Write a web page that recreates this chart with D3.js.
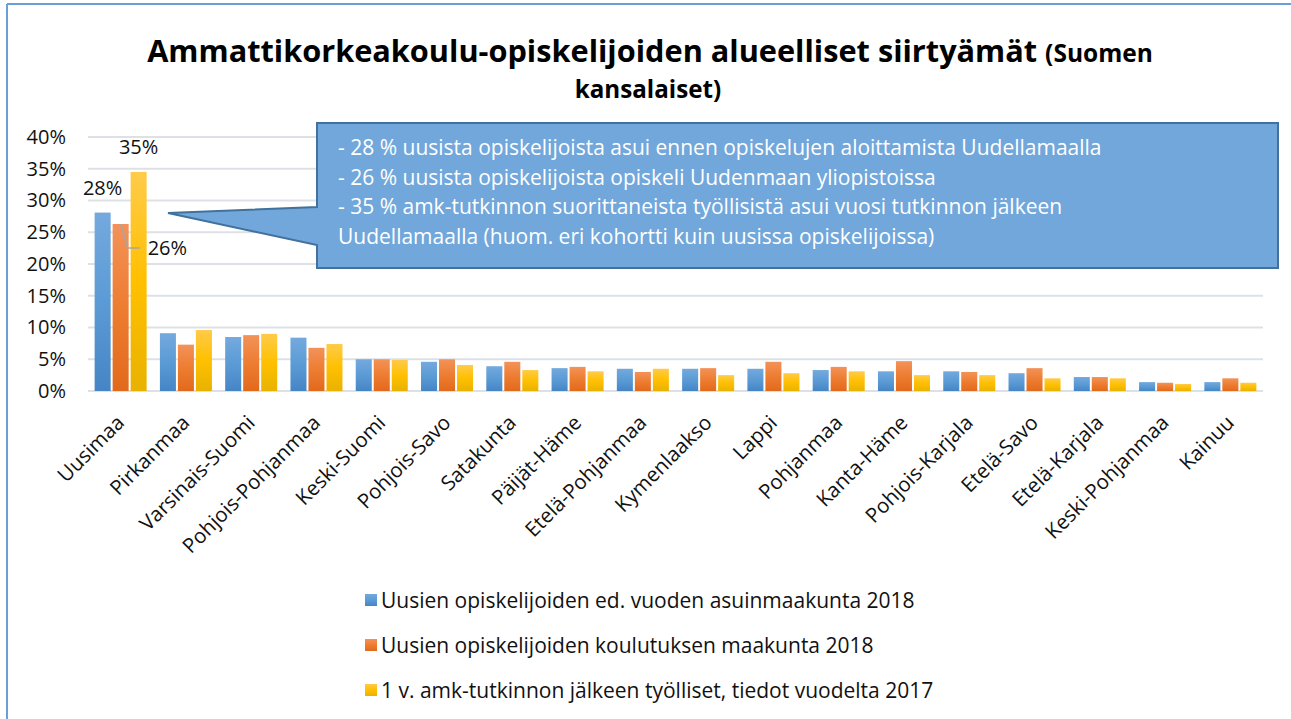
<!DOCTYPE html>
<html>
<head>
<meta charset="utf-8">
<script src="https://cdn.jsdelivr.net/npm/d3@7"></script>
<style>
  body { margin: 0; background: #fff; }
  svg { display: block; font-family: "Open Sans", sans-serif; }
</style>
</head>
<body>
<div id="chart"></div>
<script>
var categories = ["Uusimaa", "Pirkanmaa", "Varsinais-Suomi", "Pohjois-Pohjanmaa", "Keski-Suomi",
  "Pohjois-Savo", "Satakunta", "Päijät-Häme", "Etelä-Pohjanmaa", "Kymenlaakso", "Lappi",
  "Pohjanmaa", "Kanta-Häme", "Pohjois-Karjala", "Etelä-Savo", "Etelä-Karjala",
  "Keski-Pohjanmaa", "Kainuu"]

var asuinmaakunta = [28.1, 9.1, 8.5, 8.4, 5.0, 4.6, 3.9, 3.6, 3.5, 3.5, 3.5, 3.3, 3.1, 3.1, 2.8, 2.2, 1.4, 1.4]
var koulutusmaakunta = [26.3, 7.3, 8.8, 6.8, 5.0, 5.0, 4.6, 3.8, 3.0, 3.6, 4.6, 3.8, 4.7, 3.0, 3.6, 2.2, 1.3, 2.0]
var tyolliset = [34.5, 9.6, 9.0, 7.4, 4.9, 4.1, 3.3, 3.1, 3.5, 2.5, 2.8, 3.1, 2.5, 2.5, 2.0, 2.0, 1.1, 1.3]

var seriesNames = ["Uusien opiskelijoiden ed. vuoden asuinmaakunta 2018",
  "Uusien opiskelijoiden koulutuksen maakunta 2018",
  "1 v. amk-tutkinnon jälkeen työlliset, tiedot vuodelta 2017"]

var yTicks = [0, 5, 10, 15, 20, 25, 30, 35, 40]

var calloutLines = ["- 28 % uusista opiskelijoista asui ennen opiskelujen aloittamista Uudellamaalla",
  "- 26 % uusista opiskelijoista opiskeli Uudenmaan yliopistoissa",
  "- 35 % amk-tutkinnon suorittaneista työllisistä asui vuosi tutkinnon jälkeen",
  "Uudellamaalla (huom. eri kohortti kuin uusissa opiskelijoissa)"]

var w = 1291
var h = 719

var series = [asuinmaakunta, koulutusmaakunta, tyolliset]
var colors = [
  ["#74a9de", "#5b9bd5", "#4685c5"],
  ["#f39259", "#ed7d31", "#e2691c"],
  ["#ffcb4a", "#ffc000", "#e9b200"]
]

var svg = d3.select("#chart").append("svg")
  .attr("width", w)
  .attr("height", h)

var defs = svg.append("defs")
colors.forEach(function(c, i){
  var g = defs.append("linearGradient")
    .attr("id", "grad" + i)
    .attr("x1", 0).attr("y1", 0).attr("x2", 0).attr("y2", 1)
  g.append("stop").attr("offset", "0%").attr("stop-color", c[0])
  g.append("stop").attr("offset", "50%").attr("stop-color", c[1])
  g.append("stop").attr("offset", "100%").attr("stop-color", c[2])
})

// frame
svg.append("line").attr("x1", 7).attr("y1", 4).attr("x2", w).attr("y2", 4)
  .attr("stroke", "#6a9fd8").attr("stroke-width", 2)
svg.append("line").attr("x1", 7).attr("y1", 4).attr("x2", 7).attr("y2", h)
  .attr("stroke", "#6a9fd8").attr("stroke-width", 2)

// title
var title = svg.append("text")
  .attr("x", 650)
  .attr("y", 62)
  .attr("text-anchor", "middle")
  .attr("font-weight", "bold")
  .attr("fill", "#000")
title.append("tspan").attr("font-size", 30.7)
  .text("Ammattikorkeakoulu-opiskelijoiden alueelliset siirtyämät ")
title.append("tspan").attr("font-size", 24.5).text("(Suomen")
svg.append("text")
  .attr("x", 648)
  .attr("y", 98)
  .attr("text-anchor", "middle")
  .attr("font-weight", "bold")
  .attr("font-size", 24.2)
  .text("kansalaiset)")

var x0 = d3.scaleBand()
  .domain(categories)
  .range([88, 1263])
  .paddingInner(0.203)
  .paddingOuter(0.1015)

var x1 = d3.scaleBand()
  .domain([0, 1, 2])
  .range([0, x0.bandwidth()])
  .paddingInner(0.11)

var y = d3.scaleLinear()
  .domain([0, 40])
  .range([391, 137])

// gridlines
svg.append("g").selectAll("line")
  .data(yTicks)
  .enter()
  .append("line")
  .attr("x1", 88)
  .attr("x2", 1263)
  .attr("y1", function(d){ return y(d) })
  .attr("y2", function(d){ return y(d) })
  .attr("stroke", "#dde1e6")
  .attr("stroke-width", 2)

// y axis
var yAxis = svg.append("g")
  .attr("transform", "translate(66,0)")
  .call(d3.axisLeft(y).tickValues(yTicks).tickSize(0).tickPadding(0)
    .tickFormat(function(d){ return d + "%" }))
yAxis.select(".domain").remove()
yAxis.selectAll("text")
  .attr("font-family", "Open Sans")
  .attr("font-size", 20)
  .attr("fill", "#111")

// bars
var groups = svg.append("g").selectAll("g")
  .data(categories)
  .enter()
  .append("g")
  .attr("transform", function(d){ return "translate(" + x0(d) + ",0)" })

groups.selectAll("rect")
  .data(function(d, i){ return series.map(function(s, k){ return { k: k, v: s[i] } }) })
  .enter()
  .append("rect")
  .attr("x", function(d){ return x1(d.k) })
  .attr("y", function(d){ return y(d.v) })
  .attr("width", x1.bandwidth())
  .attr("height", function(d){ return y(0) - y(d.v) })
  .attr("fill", function(d){ return "url(#grad" + d.k + ")" })

// category labels
svg.append("g")
  .selectAll("text")
  .data(categories)
  .enter()
  .append("text")
  .attr("transform", function(d){
    return "translate(" + (x0(d) + x0.bandwidth() / 2 + 5) + ",424) rotate(-45)"
  })
  .attr("text-anchor", "end")
  .attr("font-size", 20.5)
  .attr("fill", "#111")
  .text(function(d){ return d })

// data labels for Uusimaa
var u = categories[0]
var ux = function(k){ return x0(u) + x1(k) + x1.bandwidth() / 2 }
svg.append("text").attr("x", ux(0)).attr("y", y(asuinmaakunta[0]) - 18)
  .attr("text-anchor", "middle").attr("font-size", 20).attr("fill", "#111")
  .text(Math.round(asuinmaakunta[0]) + "%")
svg.append("text").attr("x", ux(2)).attr("y", y(tyolliset[0]) - 18)
  .attr("text-anchor", "middle").attr("font-size", 20).attr("fill", "#111")
  .text(Math.round(tyolliset[0]) + "%")
var ly = y(koulutusmaakunta[0]) + 24
svg.append("path")
  .attr("d", "M" + ux(1) + "," + y(koulutusmaakunta[0]) + " L" + (ux(1) + 7) + "," + ly + " H" + (ux(1) + 19))
  .attr("fill", "none").attr("stroke", "#a6a6a6").attr("stroke-width", 1.5)
svg.append("text").attr("x", ux(1) + 27).attr("y", ly + 7)
  .attr("font-size", 20).attr("fill", "#111")
  .text(Math.round(koulutusmaakunta[0]) + "%")

// callout
svg.append("path")
  .attr("d", "M317,123 H1278 V268 H317 V245 L168,213 L317,207 Z")
  .attr("fill", "#71a7db")
  .attr("stroke", "#41719c")
  .attr("stroke-width", 2)
  .attr("stroke-linejoin", "miter")

svg.append("g").selectAll("text")
  .data(calloutLines)
  .enter()
  .append("text")
  .attr("x", 338)
  .attr("y", function(d, i){ return 155 + i * 29.5 })
  .attr("font-size", 21)
  .attr("fill", "#fff")
  .text(function(d){ return d })

// legend
var legend = svg.append("g").selectAll("g")
  .data(seriesNames)
  .enter()
  .append("g")
  .attr("transform", function(d, i){ return "translate(365," + (600 + i * 45) + ")" })

legend.append("rect")
  .attr("x", 0).attr("y", -6)
  .attr("width", 12).attr("height", 12)
  .attr("fill", function(d, i){ return "url(#grad" + i + ")" })

legend.append("text")
  .attr("x", 16)
  .attr("y", 7.5)
  .attr("font-size", 21)
  .attr("fill", "#111")
  .text(function(d){ return d })
</script>
</body>
</html>
